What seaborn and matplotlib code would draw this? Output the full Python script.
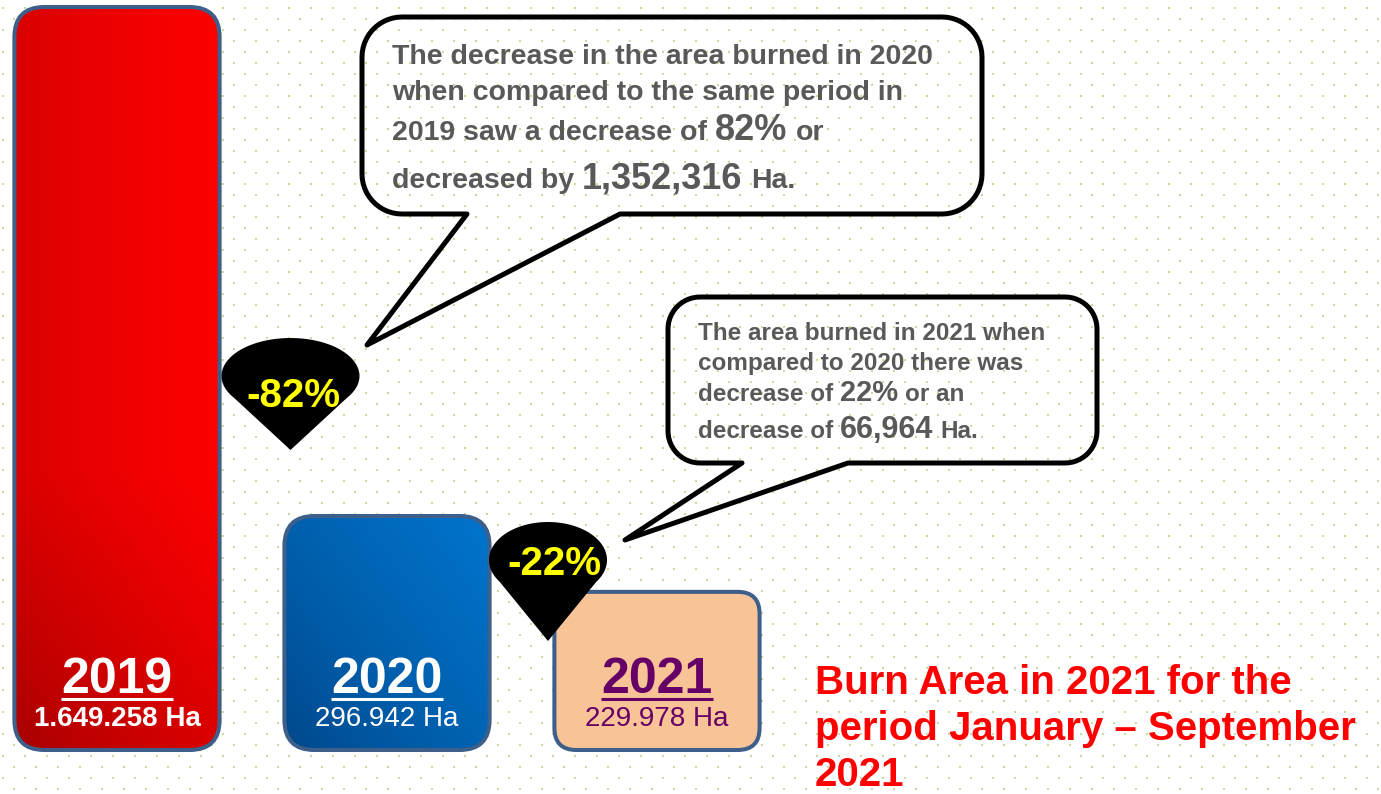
import numpy as np
import matplotlib
matplotlib.use("Agg")
import matplotlib.pyplot as plt
import seaborn as sns
from matplotlib.patches import FancyBboxPatch, Polygon

# data
years = ["2019", "2020", "2021"]
burned_ha = [1649258, 296942, 229978]
pct_labels = ["-82%", "-22%"]
title_lines = ["Burn Area in 2021 for the", "period January – September", "2021"]

sns.set_style("white")
plt.rcParams["font.family"] = ["Liberation Sans", "DejaVu Sans"]

W, H = 1381, 794
fig = plt.figure(figsize=(W / 100, H / 100), dpi=100)
fig.patch.set_facecolor("white")

# bars on a log axis (heights come from the data)
ax = fig.add_axes([0, 44 / H, 1, 743 / H])
ax.set_yscale("log")
sns.barplot(x=years, y=burned_ha, ax=ax, width=0.76, color="red")
ax.set_xlim(-117 / 270, (W - 117) / 270)
ax.set_ylim(1.35e5, burned_ha[0])
ax.axis("off")

# pixel overlay for the decoration
ov = fig.add_axes([0, 0, 1, 1], zorder=2)
ov.axis("off")


def reset_ov():
    ov.set_xlim(0, W)
    ov.set_ylim(H, 0)


reset_ov()
renderer = fig.canvas.get_renderer()

# dotted background
gx, gy = np.meshgrid(np.arange(3, W + 22, 22), np.arange(8, H, 11))
gx = gx + 11 * (np.arange(gy.shape[0])[:, None] % 2)
ov.scatter(gx.ravel(), gy.ravel(), s=3.5, marker="s", color="#c6dba0", linewidths=0, zorder=0)

bar_style = [
    dict(dark=(0.64, 0.0, 0.0), bright=(1.0, 0.0, 0.0), txt="white", w2="bold", r=30),
    dict(dark=(0.0, 0.27, 0.53), bright=(0.0, 0.47, 0.82), txt="white", w2="normal", r=30),
    dict(solid="#f8c396", txt="#660066", w2="normal", r=22),
]

bottom = ax.get_ylim()[0]
for i, p in enumerate(ax.patches):
    p.set_visible(False)
    x0 = p.get_x()
    top = p.get_y() + p.get_height()
    pts = ov.transData.inverted().transform(ax.transData.transform([(x0, bottom), (x0 + p.get_width(), top)]))
    px0, py1 = pts[0]
    px1, py0 = pts[1]
    st = bar_style[i]
    box = FancyBboxPatch((px0, py0), px1 - px0, py1 - py0,
                         boxstyle=f"round,pad=0,rounding_size={st['r']}",
                         fc=st.get("solid", "none"), ec="#3e5f8a", lw=2.9, zorder=3)
    ov.add_patch(box)
    if "solid" not in st:
        bh = py1 - py0
        u = np.linspace(0, 1, 200)[None, :]
        hb = np.linspace(bh, 0, 400)[:, None]
        t = np.clip(0.5 * u + 0.5 * np.clip(hb / 280, 0, 1), 0, 1) ** 0.75
        rgb = np.array(st["dark"]) + (np.array(st["bright"]) - np.array(st["dark"])) * t[..., None]
        im = ov.imshow(rgb, extent=(px0, px1, py1, py0), origin="upper", aspect="auto",
                       interpolation="bilinear", zorder=2)
        im.set_clip_path(box)
        reset_ov()

    cx = (px0 + px1) / 2
    yt = ov.text(cx, py1 - 57, years[i], ha="center", va="baseline", fontsize=36,
                 fontweight="bold", color=st["txt"], zorder=5)
    bb = yt.get_window_extent(renderer)
    ux = ov.transData.inverted().transform([(bb.x0, 0), (bb.x1, 0)])[:, 0]
    ov.plot(ux, [py1 - 51, py1 - 51], color=st["txt"], lw=2.2, solid_capstyle="butt", zorder=5)
    ov.text(cx, py1 - 24, f"{burned_ha[i]:,} Ha".replace(",", "."), ha="center", va="baseline",
            fontsize=20, fontweight=st["w2"], color=st["txt"], zorder=5)


# percentage drops
def drop(cx, cy, a, b, tip_y, label, tx, ty):
    ang = np.radians(np.linspace(-35, 215, 80))
    xs = np.r_[cx + a * np.cos(ang), cx]
    ys = np.r_[cy - b * np.sin(ang), tip_y]
    ov.add_patch(Polygon(np.column_stack([xs, ys]), closed=True, fc="black", ec="none", zorder=4))
    ov.text(tx, ty, label, ha="center", va="baseline", fontsize=29, fontweight="bold",
            color="#ffff00", zorder=6)


drop(290.5, 376, 69, 38, 450, pct_labels[0], 293, 407)
drop(548, 560, 59, 38, 641, pct_labels[1], 554, 575)


# speech bubbles
def bubble(x0, y0, x1, y1, r, base_l, base_r, tip):
    def arc(cx, cy, a0, a1):
        a = np.radians(np.linspace(a0, a1, 14))
        return list(zip(cx + r * np.cos(a), cy + r * np.sin(a)))
    pts = arc(x1 - r, y0 + r, -90, 0) + arc(x1 - r, y1 - r, 0, 90)
    pts += [(base_r, y1), tip, (base_l, y1)]
    pts += arc(x0 + r, y1 - r, 90, 180) + arc(x0 + r, y0 + r, 180, 270)
    ov.add_patch(Polygon(pts, closed=True, fc="none", ec="black", lw=3.6, joinstyle="round", zorder=3))


bubble(362, 17, 982, 214, 40, 467, 620, (367, 345))
bubble(668, 297, 1097, 463, 32, 742, 848, (625, 540))


def rich_line(x, y, parts, color="#595959"):
    for s, size, weight in parts:
        t = ov.text(x, y, s, fontsize=size, fontweight=weight, color=color,
                    ha="left", va="baseline", zorder=6)
        bb = t.get_window_extent(renderer)
        x = ov.transData.inverted().transform((bb.x1, bb.y0))[0] + 0.36 * size


diff1 = burned_ha[0] - burned_ha[1]
diff2 = burned_ha[1] - burned_ha[2]

rich_line(392, 64, [("The decrease in the area burned in 2020", 20.5, "bold")])
rich_line(392, 100, [("when compared to the same period in", 20.5, "bold")])
rich_line(392, 140, [("2019 saw a decrease of", 20.5, "bold"), (pct_labels[0][1:], 26, "bold"), ("or", 20.5, "bold")])
rich_line(392, 188, [("decreased by", 20.5, "bold"), (f"{diff1:,}", 26, "bold"), ("Ha.", 20.5, "bold")])

rich_line(698, 340, [("The area burned in 2021 when", 17.5, "bold")])
rich_line(698, 370, [("compared to 2020 there was", 17.5, "bold")])
rich_line(698, 401, [("decrease of", 17.5, "bold"), (pct_labels[1][1:], 21, "bold"), ("or an", 17.5, "bold")])
rich_line(698, 438, [("decrease of", 17.5, "bold"), (f"{diff2:,}", 22, "bold"), ("Ha.", 17.5, "bold")])

# title block
for k, line in enumerate(title_lines):
    ov.text(815, 694 + 46 * k, line, ha="left", va="baseline", fontsize=29,
            fontweight="bold", color="#ff0000", zorder=6)

reset_ov()
fig.savefig("out.png", dpi=100)
